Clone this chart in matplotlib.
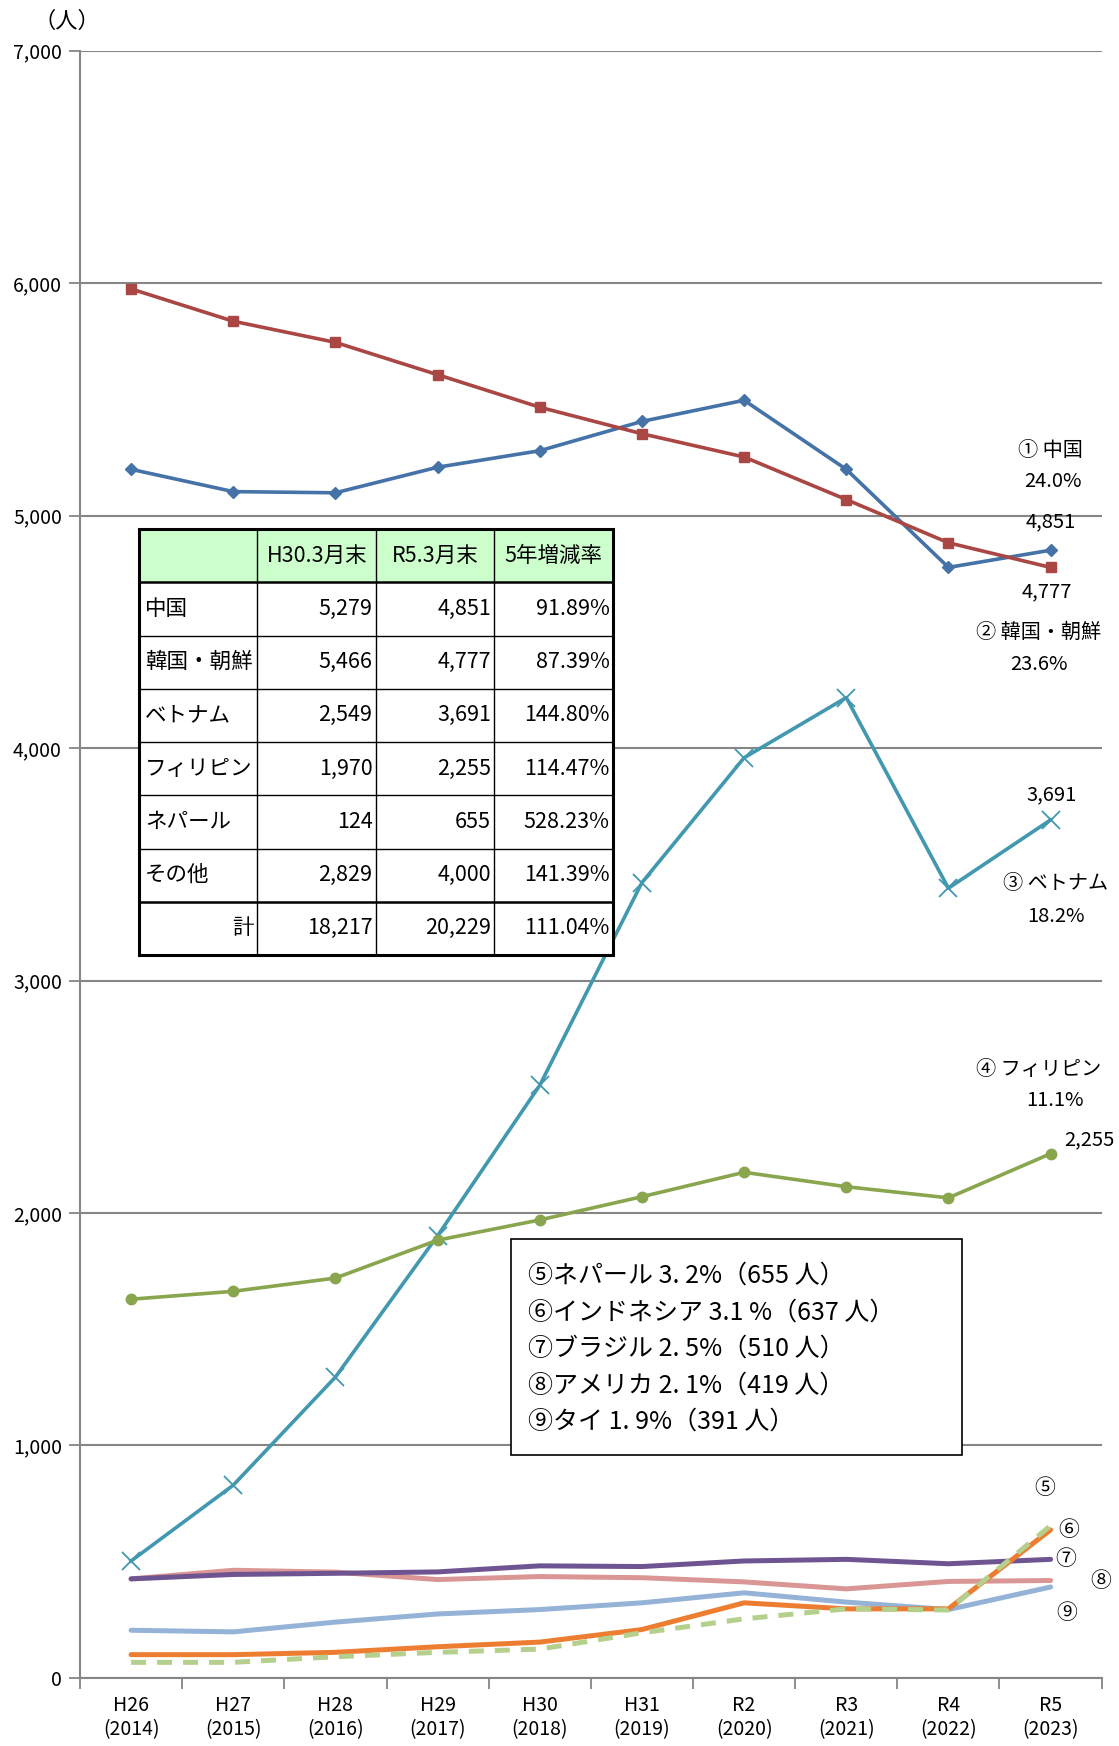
import matplotlib
matplotlib.use("Agg")
import matplotlib.pyplot as plt
from matplotlib.patches import Rectangle

plt.rcParams['font.family'] = ['Noto Sans CJK JP', 'DejaVu Sans']

# 年度（カテゴリ）
years = ["H26\n(2014)", "H27\n(2015)", "H28\n(2016)", "H29\n(2017)", "H30\n(2018)",
         "H31\n(2019)", "R2\n(2020)", "R3\n(2021)", "R4\n(2022)", "R5\n(2023)"]

# 国籍別人数
china = [5199, 5103, 5098, 5208, 5279, 5405, 5496, 5199, 4777, 4851]
korea = [5975, 5836, 5745, 5606, 5466, 5352, 5252, 5069, 4883, 4777]
vietnam = [503, 829, 1294, 1902, 2549, 3421, 3958, 4217, 3397, 3691]
philippines = [1629, 1663, 1720, 1883, 1970, 2070, 2175, 2113, 2065, 2255]
brazil = [426, 445, 450, 456, 482, 479, 503, 510, 491, 510]
america = [426, 463, 455, 423, 436, 431, 413, 383, 415, 419]
thai = [205, 198, 240, 275, 294, 323, 366, 326, 294, 391]
indonesia = [100, 100, 110, 134, 154, 208, 323, 297, 297, 637]
nepal = [67, 67, 91, 110, 124, 194, 254, 297, 292, 655]

# 表
table_header = ["", "H30.3月末", "R5.3月末", "5年増減率"]
table_rows = [
    ["中国", "5,279", "4,851", "91.89%"],
    ["韓国・朝鮮", "5,466", "4,777", "87.39%"],
    ["ベトナム", "2,549", "3,691", "144.80%"],
    ["フィリピン", "1,970", "2,255", "114.47%"],
    ["ネパール", "124", "655", "528.23%"],
    ["その他", "2,829", "4,000", "141.39%"],
    ["計", "18,217", "20,229", "111.04%"],
]

box_lines = ["⑤ネパール 3. 2%（655 人）",
             "⑥インドネシア 3.1 %（637 人）",
             "⑦ブラジル 2. 5%（510 人）",
             "⑧アメリカ 2. 1%（419 人）",
             "⑨タイ 1. 9%（391 人）"]

fig = plt.figure(figsize=(11.19, 17.46), dpi=100)
ax = fig.add_axes([0.0715, 0.039, 0.913, 0.932])
x = list(range(len(years)))

# 下位の国
ax.plot(x, thai, color="#95B3D7", lw=3.6, solid_capstyle="round", zorder=2)
ax.plot(x, america, color="#D99694", lw=3.6, solid_capstyle="round", zorder=2)
ax.plot(x, brazil, color="#6F5492", lw=3.6, solid_capstyle="round", zorder=2)
ax.plot(x, indonesia, color="#ED7D31", lw=3.6, solid_capstyle="round", zorder=3)
ax.plot(x, nepal, color="#B5D08C", lw=3.6, ls=(0, (3, 2.2)), zorder=3)

# 上位の国
ax.plot(x, vietnam, color="#4198AF", lw=2.6, marker="x", ms=13, mew=1.3, zorder=4)
ax.plot(x, philippines, color="#89A54E", lw=2.6, marker="o", ms=7.5, zorder=4)
ax.plot(x, china, color="#4572A7", lw=2.6, marker="D", ms=6.5, zorder=5)
ax.plot(x, korea, color="#AA4643", lw=2.6, marker="s", ms=7.5, zorder=5)

ax.set_xlim(-0.5, 9.5)
ax.set_ylim(0, 7000)
ax.set_yticks(range(0, 7001, 1000))
ax.set_yticklabels([f"{v:,}" for v in range(0, 7001, 1000)], fontsize=14)
ax.set_xticks(x)
ax.set_xticklabels(years, fontsize=14, linespacing=1.25)
ax.set_xticks([i - 0.5 for i in range(11)], minor=True)
ax.tick_params(axis="x", which="major", length=0, pad=12)
ax.tick_params(axis="x", which="minor", length=8, color="#868686", width=1.3)
ax.tick_params(axis="y", length=8, color="#868686", width=1.3, pad=5)
ax.grid(axis="y", color="#868686", lw=1.5, zorder=0)
for s in ["top", "right"]:
    ax.spines[s].set_visible(False)
for s in ["left", "bottom"]:
    ax.spines[s].set_color("#868686")
    ax.spines[s].set_linewidth(1.5)

fig.text(0.03, 0.988, "（人）", fontsize=16, ha="left", va="center")

# 右側の注記
notes = [
    (9.0, 5280, "① 中国"), (9.02, 5146, "24.0%"), (9.0, 4974, "4,851"),
    (8.96, 4672, "4,777"), (8.88, 4499, "② 韓国・朝鮮"), (8.89, 4360, "23.6%"),
    (9.01, 3800, "3,691"), (9.05, 3416, "③ ベトナム"), (9.05, 3277, "18.2%"),
    (8.88, 2616, "④ フィリピン"), (9.04, 2482, "11.1%"), (9.38, 2314, "2,255"),
]
for nx, ny, t in notes:
    ax.text(nx, ny, t, fontsize=14.5, ha="center", va="center", clip_on=False, zorder=6)
circ = [(8.94, 815, "⑤"), (9.18, 637, "⑥"), (9.15, 513, "⑦"), (9.49, 417, "⑧"), (9.16, 278, "⑨")]
for nx, ny, t in circ:
    ax.text(nx, ny, t, fontsize=15, ha="center", va="center", clip_on=False, zorder=6)

# 下位の国のテキストボックス
fig.patches.append(Rectangle((0.4567, 0.1667), 0.403, 0.1237, transform=fig.transFigure,
                             facecolor="white", edgecolor="black", lw=1.2, zorder=7))
for i, t in enumerate(box_lines):
    fig.text(0.4718, 0.2692 - i * 0.0209, t, fontsize=18, ha="left", va="center", zorder=8)

# 表
tax = fig.add_axes([0.1242, 0.453, 0.4236, 0.244])
tax.set_xlim(0, 4)
tax.set_ylim(8, 0)
tax.axis("off")
tax.add_patch(Rectangle((0, 0), 4, 8, facecolor="white", edgecolor="none"))
tax.add_patch(Rectangle((0, 0), 4, 1, facecolor="#CCFFCC", edgecolor="none"))
for r in range(1, 8):
    tax.plot([0, 4], [r, r], color="black", lw=1.0 if r not in (1, 7) else 1.8)
for c in range(1, 4):
    tax.plot([c, c], [0, 8], color="black", lw=1.0)
tax.add_patch(Rectangle((0, 0), 4, 8, facecolor="none", edgecolor="black", lw=2.2, clip_on=False))
for c, h in enumerate(table_header):
    tax.text(c + 0.5, 0.5, h, fontsize=15.5, ha="center", va="center")
for r, row in enumerate(table_rows):
    yy = r + 1.5
    for c, v in enumerate(row):
        if c == 0 and v != "計":
            tax.text(0.05, yy, v, fontsize=15.5, ha="left", va="center")
        else:
            tax.text(c + 0.97, yy, v, fontsize=15.5, ha="right", va="center")

fig.savefig("out.png", dpi=100)
